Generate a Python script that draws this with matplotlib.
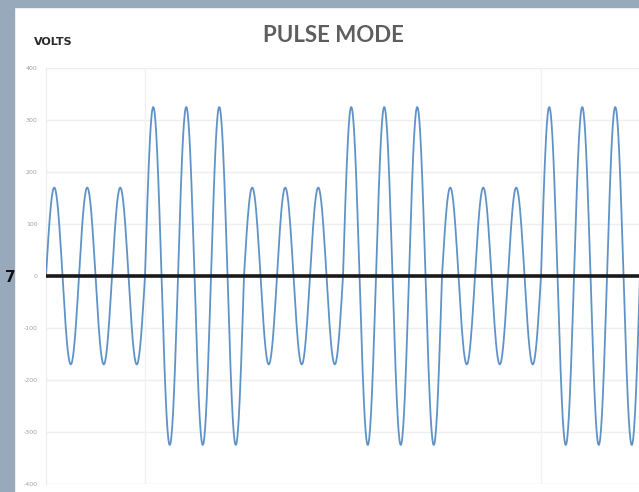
"""Pulse mode voltage waveform chart."""

import matplotlib

matplotlib.use("Agg")

import matplotlib.pyplot as plt
import numpy as np
from matplotlib.patches import Rectangle

BORDER = "#98a9bb"
WAVE = "#5f93c8"
GRID = "#efefef"
LABEL = "#a0a0a0"

# peak voltage of each cycle (3 low, 3 high, repeated)
cycle_peaks = [170, 170, 170, 325, 325, 325,
               170, 170, 170, 325, 325, 325,
               170, 170, 170, 325, 325, 325]
y_ticks = [400, 300, 200, 100, 0, -100, -200, -300, -400]
y_tick_labels = ["400", "300", "200", "100", "0", "-100", "-200", "-300", "-400"]

W, H = 639, 492
fig = plt.figure(figsize=(W / 100, H / 100), dpi=100)
fig.patch.set_facecolor("white")

# slide border strips
fig.patches.append(Rectangle((0, 0), 14 / W, 1, transform=fig.transFigure,
                             color=BORDER, zorder=0))
fig.patches.append(Rectangle((0, 1 - 7 / H), 1, 7 / H, transform=fig.transFigure,
                             color=BORDER, zorder=0))

ax = fig.add_axes([46 / W, (H - 484) / H, (640 - 46) / W, 416 / H])
ax.set_facecolor("none")

# one sine period per cycle, scaled by its peak
phase = np.linspace(0, 1, 80)
xs, ys = [], []
for i, peak in enumerate(cycle_peaks):
    xs.append(i + phase)
    ys.append(peak * np.sin(2 * np.pi * phase))
ax.plot(np.concatenate(xs), np.concatenate(ys), color=WAVE, linewidth=1.3, zorder=3)

ax.axhline(0, color="#1a1a1a", linewidth=2.6, zorder=4)
for v in y_ticks:
    ax.axhline(v, color=GRID, linewidth=1.0, zorder=1)
for xv in [3, 15]:
    ax.axvline(xv, color="#f2f2f2", linewidth=1.0, zorder=1)

ax.set_xlim(0, len(cycle_peaks))
ax.set_ylim(-400, 400)
ax.set_yticks(y_ticks)
ax.set_yticklabels(y_tick_labels, fontsize=4.5, color=LABEL)
ax.set_xticks([])
ax.tick_params(axis="y", length=0, pad=6)
for side in ["top", "right", "bottom"]:
    ax.spines[side].set_visible(False)
ax.spines["left"].set_color("#ececec")

fig.text(34 / W, 1 - 42 / H, "VOLTS", fontsize=8, fontweight="bold",
         family=["Liberation Sans Narrow", "DejaVu Sans"], color="#2b2b2b",
         va="center", ha="left")
fig.text(333 / W, 1 - 35 / H, "PULSE MODE", fontsize=16, fontweight="bold",
         family="Lato", color="#5e5e5e", va="center", ha="center")
fig.text(5 / W, 1 - 277 / H, "7", fontsize=11, fontweight="bold",
         color="#111111", va="center", ha="left")

fig.savefig("out.png", dpi=100)
